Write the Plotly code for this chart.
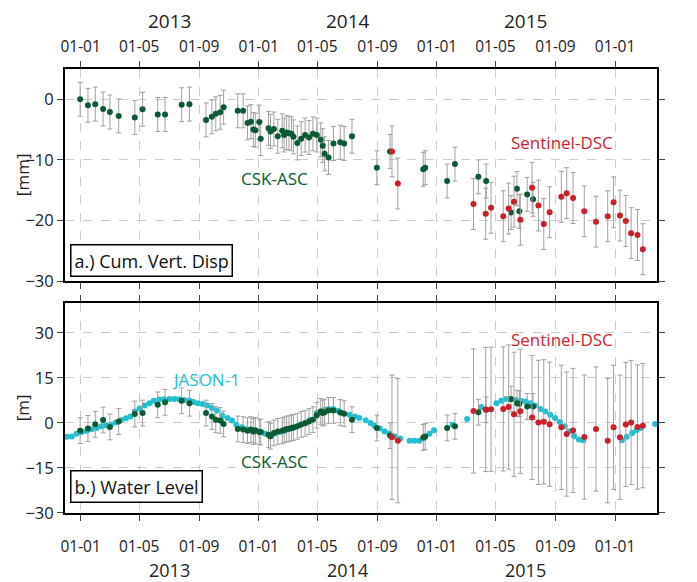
import plotly.graph_objects as go

# ---------------- data ----------------
csk_dates = ["2012-12-31", "2013-01-16", "2013-01-31", "2013-02-16", "2013-03-02", "2013-03-20",
             "2013-04-22", "2013-05-08", "2013-06-08", "2013-06-23", "2013-07-27", "2013-08-12",
             "2013-09-15", "2013-09-27", "2013-10-05", "2013-10-14", "2013-10-21", "2013-11-19",
             "2013-11-30", "2013-12-09", "2013-12-16", "2013-12-21", "2013-12-25", "2014-01-02",
             "2014-01-05", "2014-01-21", "2014-01-25", "2014-02-01", "2014-02-09", "2014-02-18",
             "2014-02-22", "2014-02-27", "2014-03-04", "2014-03-09", "2014-03-13", "2014-03-21",
             "2014-03-29", "2014-04-06", "2014-04-14", "2014-04-22", "2014-04-30", "2014-05-08",
             "2014-05-12", "2014-05-16", "2014-05-24", "2014-06-03", "2014-06-17", "2014-06-25",
             "2014-07-11", "2014-08-31", "2014-09-27", "2014-12-04", "2014-12-08", "2015-01-22",
             "2015-02-07", "2015-03-27", "2015-04-12", "2015-06-02", "2015-06-14", "2015-06-19",
             "2015-07-05", "2015-07-17"]
csk_disp = [0.0, -1.0, -0.8, -1.6, -2.1, -2.75, -3.0, -1.65, -2.5, -2.5,
            -0.9, -0.8, -3.4, -2.9, -2.4, -2.15, -1.3, -1.9, -1.9, -3.9,
            -3.7, -5.0, -5.1, -3.75, -6.5, -4.8, -5.3, -4.9, -6.1, -5.2,
            -5.9, -5.5, -5.6, -5.7, -6.2, -7.2, -6.5, -5.9, -6.3, -5.7,
            -5.9, -6.7, -7.65, -9.0, -9.6, -7.3, -7.1, -7.3, -6.1, -11.3,
            -8.6, -11.55, -11.3, -13.5, -10.7, -12.8, -13.5, -18.7, -14.75, -18.5,
            -15.7, -16.5]
csk_level = [-2.55, -1.8, -0.45, 1.0, -1.3, 0.5, 3.0, 3.3, 6.05, 6.9,
             7.4, 6.6, 3.3, 2.2, 1.1, 0.85, -0.3, -2.0, -2.2, -2.55,
             -2.2, -2.8, -2.45, -3.0, -3.0, -3.9, -4.4, -3.3, -2.8, -2.6,
             -2.3, -2.0, -1.9, -1.65, -1.5, -1.1, -0.5, -0.1, 0.5, 1.1,
             2.6, 3.85, 3.3, 3.6, 4.2, 4.2, 3.5, 3.1, 1.1, -1.65,
             -4.2, -4.8, -4.5, -1.65, -1.1, 3.6, 4.4, 8.0, 6.6, 6.4,
             5.5, 5.5]
csk_disp_err = 2.8
csk_level_err = 4.3

s1_dates = ["2014-10-01", "2014-10-13", "2015-03-17", "2015-04-11", "2015-04-22", "2015-05-17",
            "2015-05-28", "2015-06-08", "2015-06-21", "2015-07-15", "2015-07-28", "2015-08-08",
            "2015-08-20", "2015-09-13", "2015-09-24", "2015-10-07", "2015-10-30", "2015-11-23",
            "2015-12-17", "2015-12-29", "2016-01-11", "2016-01-23", "2016-02-03", "2016-02-16",
            "2016-02-27"]
s1_disp = [-8.6, -13.9, -17.3, -18.9, -17.9, -19.3, -18.05, -16.9, -19.9, -14.6,
           -17.55, -20.6, -18.65, -16.1, -15.5, -16.3, -18.5, -20.2, -19.3, -17.0,
           -19.2, -20.1, -22.1, -22.4, -24.75]
s1_level = [-4.75, -5.9, 4.0, 4.5, 4.6, 4.7, 5.3, 2.9, 3.9, 1.85,
            0.2, 0.4, -0.4, -1.45, -3.7, -2.5, -4.7, -2.0, -5.9, -1.45,
            -4.75, -0.5, 0.15, -1.35, -0.9]
s1_disp_err = 4.2
s1_level_err = 20.7

jason_dates = ["2012-12-04", "2012-12-14", "2012-12-24", "2013-01-04", "2013-01-14", "2013-01-24",
               "2013-02-03", "2013-02-13", "2013-02-22", "2013-03-04", "2013-03-14", "2013-03-25",
               "2013-04-04", "2013-04-13", "2013-04-22", "2013-05-02", "2013-05-12", "2013-05-22",
               "2013-05-31", "2013-06-11", "2013-06-21", "2013-07-02", "2013-07-12", "2013-07-22",
               "2013-08-01", "2013-08-12", "2013-08-20", "2013-08-29", "2013-09-08", "2013-09-17",
               "2013-09-27", "2013-10-07", "2013-10-18", "2013-10-29", "2013-11-07", "2013-11-16",
               "2013-11-27", "2013-12-07", "2013-12-16", "2013-12-27", "2014-01-06", "2014-01-14",
               "2014-01-24", "2014-02-03", "2014-02-13", "2014-02-24", "2014-03-06", "2014-03-16",
               "2014-03-27", "2014-04-06", "2014-04-16", "2014-04-30", "2014-05-09", "2014-05-17",
               "2014-05-24", "2014-06-03", "2014-06-13", "2014-06-23", "2014-07-06", "2014-07-17",
               "2014-07-26", "2014-08-08", "2014-08-18", "2014-08-26", "2014-09-06", "2014-09-16",
               "2014-09-26", "2014-10-06", "2014-10-18", "2014-11-06", "2014-11-16", "2014-11-26",
               "2014-12-06", "2014-12-17", "2014-12-26", "2015-02-02", "2015-03-04", "2015-04-02",
               "2015-05-03", "2015-05-13", "2015-05-23", "2015-06-01", "2015-06-12", "2015-06-22",
               "2015-07-02", "2015-07-12", "2015-07-21", "2015-08-01", "2015-08-11", "2015-08-21",
               "2015-08-31", "2015-09-10", "2015-09-20", "2015-09-29", "2015-10-09", "2015-10-19",
               "2015-10-28", "2016-01-15", "2016-01-25", "2016-02-05", "2016-02-14", "2016-02-23",
               "2016-03-23"]
jason_level = [-4.6, -4.5, -3.6, -3.0, -2.6, -2.1,
               -1.65, -1.1, -0.8, -0.55, 0.2, 1.0,
               1.6, 2.2, 3.85, 4.8, 5.8, 6.6,
               7.4, 7.8, 7.9, 8.0, 8.0, 7.9,
               7.7, 7.5, 7.0, 6.6, 6.3, 5.8,
               5.0, 4.1, 2.5, 1.65, 0.8, -0.55,
               -1.4, -2.0, -2.4, -2.7, -3.0, -3.6,
               -3.9, -3.5, -3.0, -2.6, -1.9, -1.4,
               -0.7, 0.0, 1.1, 3.3, 3.9, 4.4,
               4.7, 4.7, 4.1, 3.3, 2.75, 2.2,
               1.65, 0.9, 0.0, -0.9, -1.8, -2.8,
               -3.6, -4.4, -5.2, -5.9, -5.9, -5.9,
               -5.0, -3.6, -2.45, -0.55, 1.3, 5.3,
               6.6, 7.4, 8.0, 7.9, 7.7, 7.4,
               7.2, 6.6, 5.8, 4.7, 3.85, 2.75,
               1.65, 0.3, -1.1, -2.8, -4.3, -5.5,
               -5.75, -5.75, -4.6, -3.3, -2.4, -1.65,
               -0.3]

month_ticks = ["2013-01-01", "2013-05-01", "2013-09-01", "2014-01-01", "2014-05-01", "2014-09-01",
               "2015-01-01", "2015-05-01", "2015-09-01", "2016-01-01"]
year_labels = ["2013", "2014", "2015"]
year_mid = ["2013-07-02", "2014-07-02", "2015-07-02"]
disp_ticks = [0, -10, -20, -30]
level_ticks = [30, 15, 0, -15, -30]

# ---------------- style ----------------
GREEN = "#0b5a34"
RED = "#cc1f2b"
CYAN = "#22bfd0"
ERR = "#a0a0a0"
FONT = "Open Sans"
TXT = "#222"
XRANGE = ["2012-11-30", "2016-03-27"]

fig = go.Figure()

def err(v):
    return dict(type="constant", value=v, color=ERR, thickness=1, width=2.5)

# top panel
fig.add_trace(go.Scatter(x=csk_dates, y=csk_disp, mode="markers", xaxis="x2", yaxis="y2",
                         marker=dict(color=GREEN, size=6), error_y=err(csk_disp_err),
                         name="CSK-ASC", showlegend=False))
fig.add_trace(go.Scatter(x=s1_dates, y=s1_disp, mode="markers", xaxis="x2", yaxis="y2",
                         marker=dict(color=RED, size=6), error_y=err(s1_disp_err),
                         name="Sentinel-DSC", showlegend=False))
# bottom panel
fig.add_trace(go.Scatter(x=jason_dates, y=jason_level, mode="markers", xaxis="x", yaxis="y",
                         marker=dict(color=CYAN, size=6), name="JASON-1", showlegend=False))
fig.add_trace(go.Scatter(x=csk_dates, y=csk_level, mode="markers", xaxis="x", yaxis="y",
                         marker=dict(color=GREEN, size=6), error_y=err(csk_level_err),
                         name="CSK-ASC", showlegend=False))
fig.add_trace(go.Scatter(x=s1_dates, y=s1_level, mode="markers", xaxis="x", yaxis="y",
                         marker=dict(color=RED, size=6), error_y=err(s1_level_err),
                         name="Sentinel-DSC", showlegend=False))

ytickfont = dict(family=FONT, size=16.5, color=TXT)
xtickfont = dict(family=FONT, size=15.5, color=TXT)
xbase = dict(type="date", range=XRANGE, tickvals=month_ticks, tickformat="%d-%m",
             ticks="outside", ticklen=6, tickwidth=1, tickcolor="#444",
             showline=True, linewidth=2, linecolor="black", mirror="ticks",
             showgrid=True, gridcolor="#cccccc", griddash="dash", gridwidth=1,
             tickfont=xtickfont, zeroline=False)
ybase = dict(ticks="outside", ticklen=6, tickwidth=1, tickcolor="#444",
             showline=True, linewidth=2, linecolor="black", mirror="ticks",
             showgrid=True, gridcolor="#cccccc", griddash="dash", gridwidth=1,
             tickfont=ytickfont, zeroline=False)
longtick = dict(type="date", range=XRANGE, tickvals=month_ticks[::3], ticks="outside",
                tickwidth=1, tickcolor="#444", showticklabels=False, showgrid=False,
                showline=False, zeroline=False)
ryaxis = dict(ticks="outside", ticklen=6, tickcolor="#444", showgrid=False, showline=False,
              zeroline=False, tickfont=ytickfont)

# the page body adds an 8px offset, so the figure is 8px smaller
fig.update_layout(
    width=689, height=574,
    margin=dict(l=57, r=40, t=61, b=69),
    plot_bgcolor="white", paper_bgcolor="white",
    font=dict(family=FONT, color=TXT),
    xaxis=dict(**xbase, domain=[0, 1], anchor="y", side="bottom", ticklabelstandoff=12),
    xaxis2=dict(**xbase, domain=[0, 1], anchor="y2", side="top", matches="x", ticklabelstandoff=3),
    xaxis3=dict(**longtick, overlaying="x", anchor="y", side="bottom", ticklen=22),
    xaxis4=dict(**longtick, overlaying="x2", anchor="y2", side="top", ticklen=16),
    yaxis=dict(**ybase, domain=[0, 0.473], range=[-30, 40], tickvals=level_ticks),
    yaxis2=dict(**ybase, domain=[0.5225, 1], range=[-30, 5], tickvals=disp_ticks),
    yaxis3=dict(**ryaxis, overlaying="y", anchor="x", side="right", range=[-30, 40],
                tickvals=level_ticks),
    yaxis4=dict(**ryaxis, overlaying="y2", anchor="x2", side="right", range=[-30, 5],
                tickvals=disp_ticks),
)

ann = []
for lab_, xm in zip(year_labels, year_mid):
    ann.append(dict(x=xm, xref="x2", y=1.108, yref="paper", yanchor="middle", xanchor="center",
                    text=lab_, showarrow=False, font=dict(family=FONT, size=19, color=TXT)))
    ann.append(dict(x=xm, xref="x", y=-0.128, yref="paper", yanchor="middle", xanchor="center",
                    text=lab_, showarrow=False, font=dict(family=FONT, size=18, color=TXT)))

def lab(x, y, xr, yr, text, color):
    return dict(x=x, y=y, xref=xr, yref=yr, text=text, showarrow=False,
                xanchor="center", yanchor="middle", font=dict(family=FONT, size=17, color=color))

ann += [
    lab("2014-02-03", -13.0, "x2", "y2", "CSK-ASC", GREEN),
    lab("2015-09-14", -7.2, "x2", "y2", "Sentinel-DSC", RED),
    lab("2013-09-14", 14.6, "x", "y", "JASON-1", CYAN),
    lab("2014-02-03", -13.0, "x", "y", "CSK-ASC", GREEN),
    lab("2015-09-14", 27.8, "x", "y", "Sentinel-DSC", RED),
    dict(x=0.0085, y=0.5315, xref="paper", yref="paper", xanchor="left", yanchor="bottom",
         text="a.) Cum. Vert. Disp", showarrow=False, bgcolor="white", bordercolor="black",
         borderwidth=1.5, borderpad=3, font=dict(family=FONT, size=18, color="#111")),
    dict(x=0.0085, y=0.0225, xref="paper", yref="paper", xanchor="left", yanchor="bottom",
         text="b.) Water Level", showarrow=False, bgcolor="white", bordercolor="black",
         borderwidth=1.5, borderpad=3, font=dict(family=FONT, size=18, color="#111")),
    dict(x=-0.0726, y=0.761, xref="paper", yref="paper", text="[mm]", textangle=-90,
         xanchor="center", yanchor="middle", showarrow=False,
         font=dict(family=FONT, size=17, color=TXT)),
    dict(x=-0.0726, y=0.236, xref="paper", yref="paper", text="[m]", textangle=-90,
         xanchor="center", yanchor="middle", showarrow=False,
         font=dict(family=FONT, size=17, color=TXT)),
]
fig.update_layout(annotations=ann)

fig.write_html("out.html")
